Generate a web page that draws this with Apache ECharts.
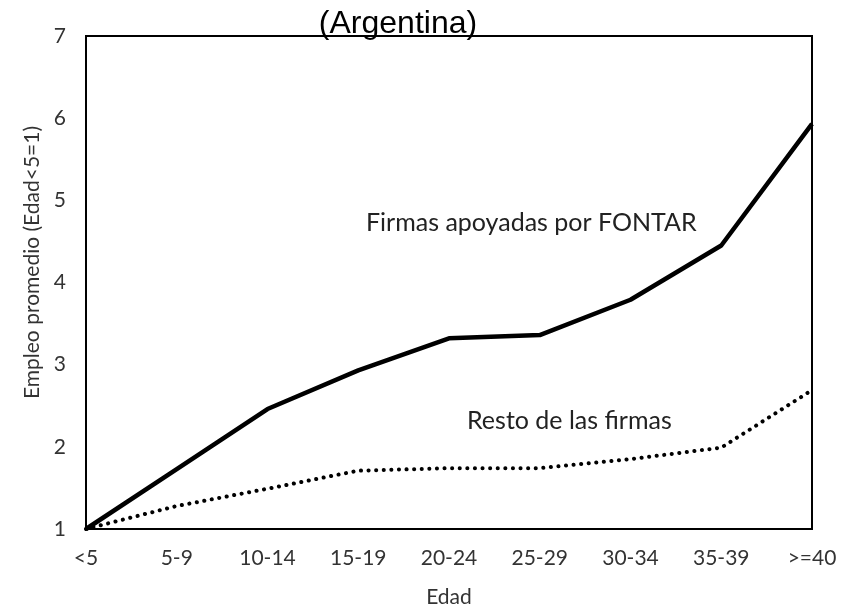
<!DOCTYPE html>
<html>
<head>
<meta charset="utf-8">
<script src="https://cdn.jsdelivr.net/npm/echarts@6/dist/echarts.min.js"></script>
<style>
  html, body { margin: 0; padding: 0; background: #fff; }
  #main { width: 841px; height: 613px; }
</style>
</head>
<body>
<div id="main"></div>
<script>
// age groups of the firm
const categories = ['<5', '5-9', '10-14', '15-19', '20-24', '25-29', '30-34', '35-39', '>=40'];
// average employment, index Edad<5 = 1
const fontar = [1, 1.73, 2.46, 2.93, 3.32, 3.36, 3.79, 4.45, 5.93];
const resto = [1, 1.28, 1.49, 1.71, 1.74, 1.74, 1.85, 1.99, 2.69];
const yTicks = [1, 2, 3, 4, 5, 6, 7];

const font = 'Lato, "Open Sans", sans-serif';
const chart = echarts.init(document.getElementById('main'));

const option = {
  backgroundColor: '#fff',
  animation: false,
  title: {
    text: '(Argentina)',
    left: 393,
    textAlign: 'center',
    top: 3,
    textStyle: { fontFamily: '"Liberation Sans", Arial, sans-serif', fontSize: 32, fontWeight: 'normal', color: '#000' }
  },
  grid: {
    left: 86, right: 29, top: 36, bottom: 80,
    show: true, borderColor: '#000', borderWidth: 2
  },
  xAxis: {
    type: 'category',
    data: categories,
    boundaryGap: false,
    name: 'Edad',
    nameLocation: 'middle',
    nameGap: 58,
    nameTextStyle: { fontFamily: font, fontSize: 21, color: '#333' },
    axisLine: { show: true, lineStyle: { color: '#000', width: 2 } },
    axisTick: { show: false },
    axisLabel: { fontFamily: font, fontSize: 21, color: '#333', margin: 19, interval: 0 },
    splitLine: { show: false }
  },
  yAxis: {
    type: 'value',
    min: yTicks[0],
    max: yTicks[yTicks.length - 1],
    interval: 1,
    name: 'Empleo promedio (Edad<5=1)',
    nameLocation: 'middle',
    nameGap: 42,
    nameTextStyle: { fontFamily: font, fontSize: 21, color: '#333', padding: [0, 0, 0, 40] },
    axisLine: { show: true, lineStyle: { color: '#000', width: 2 } },
    axisTick: { show: false },
    axisLabel: { fontFamily: font, fontSize: 21, color: '#333', margin: 20 },
    splitLine: { show: false }
  },
  series: [
    {
      name: 'Firmas apoyadas por FONTAR',
      type: 'line',
      data: fontar,
      symbol: 'none',
      lineStyle: { color: '#000', width: 4.5 }
    },
    {
      name: 'Resto de las firmas',
      type: 'line',
      data: resto,
      symbol: 'none',
      lineStyle: { color: '#000', width: 4, type: [0.1, 7.5], cap: 'round' }
    }
  ],
  graphic: [
    {
      type: 'text', left: 366, top: 210,
      style: { text: 'Firmas apoyadas por FONTAR', fontFamily: font, fontSize: 25, fill: '#222' }
    },
    {
      type: 'text', left: 467, top: 408,
      style: { text: 'Resto de las firmas', fontFamily: font, fontSize: 25, fill: '#222' }
    }
  ]
};

chart.setOption(option);
</script>
</body>
</html>
